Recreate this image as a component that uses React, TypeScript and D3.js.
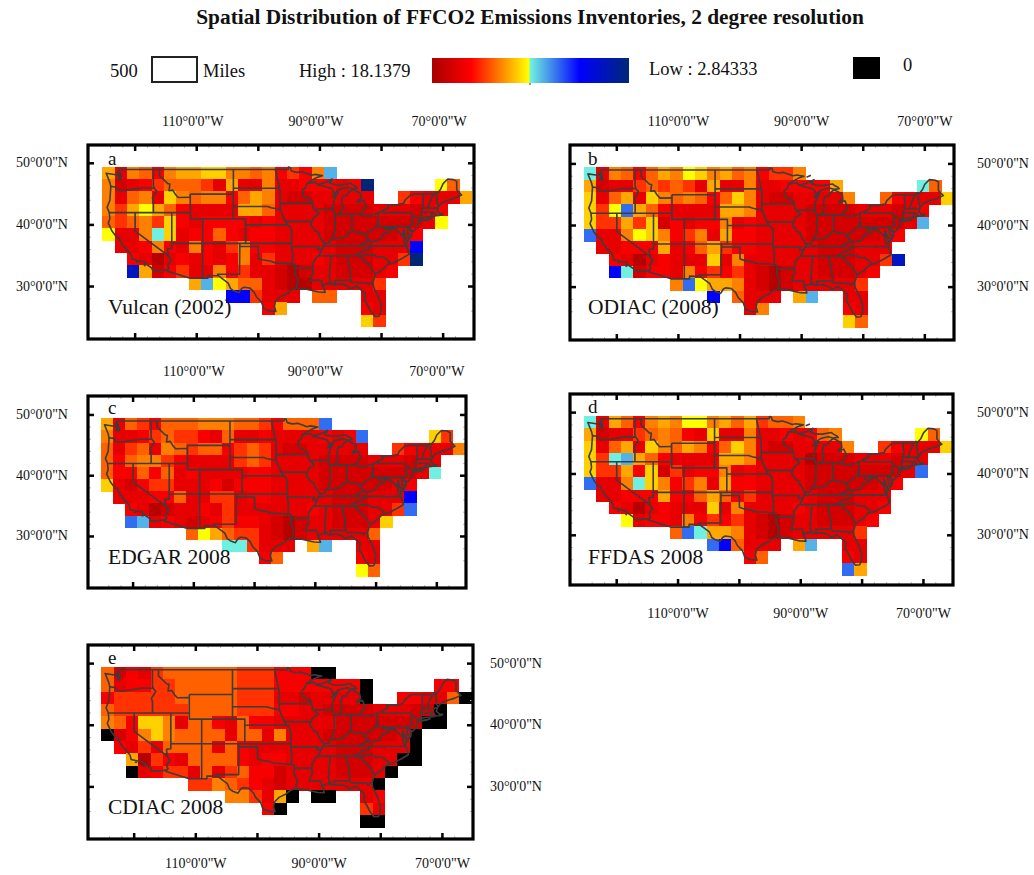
import React, { useEffect, useRef } from "react";
import * as d3 from "d3";

// Cell levels, one character per 2 degree cell ("." = no data)
const vulcanRows = [
  "837647889977674547L",
  "72345666538337334443" + "4N.....Y6",
  "73673976774687322333" + "33..543338",
  "758Y8643333886333322" + "22333234",
  "65675943444434333322" + "2222223Y",
  "Y337T934464344333322" + "222234",
  ".3347437435744333332" + "22333B",
  "..431343434735333432" + "22335N",
  "..D82453374533212332" + "2234",
  ".......8LY8663211333" + "335",
  "..........BB5333.66." + ".33",
  ".............48....." + ".43",
  "...................." + ".95",
];
const odiacRows = [
  "T3764687Y978674557",
  "82335656538337334444" + "8......T6",
  "93683976764697322333" + "37..643339",
  "95YP8643333887333322" + "22333234",
  "95585924344734333322" + "2222223L",
  "P337Y974573844333322" + "222234",
  ".3344483468544333332" + "22333",
  "..431343339373333332" + "22335D",
  "..BT2443745453212332" + "2234",
  ".......7PY8873212333" + "335",
  "..........B.6333.8L." + ".33",
  ".............37....." + ".43",
  "...................." + ".96",
];
const edgarRows = [
  "836546667776654666P",
  "73345655436334333343" + "4P.....95",
  "63563765664565322333" + "33..543337",
  "64677543333565333322" + "22333233",
  "64464634333344333322" + "2222223T",
  "93245533342444333322" + "222234",
  ".3334463355344333332" + "22333B",
  "..431233435333333432" + "22335P",
  "..PL3432345443212332" + "2239",
  ".......6Y86553212333" + "336",
  "..........TT5333.8L." + ".33",
  ".............46....." + ".43",
  "...................." + ".Y6",
];
const ffdasRows = [
  "T3864787YY78685667",
  "82335676439337334346" + "7......Y6",
  "93683976874697322333" + "37..543339",
  "95TL8643333887333312" + "22333233",
  "95584925344734333322" + "2222223P",
  "P337T974573844333322" + "222234",
  ".3344484468645333332" + "22333",
  "..431343339373333432" + "22334",
  "...Y3443745453212332" + "2234",
  ".......6PT8873212333" + "335",
  "..........PB6333.8L." + ".33",
  ".............46....." + ".43",
  "...................." + ".P8",
];
const cdiacRows = [
  "62435666666555444KK",
  "63445566666555444444" + "4K.....44",
  "45555566666555332333" + "3K..44336K",
  "65555556666555443322" + "2233322K",
  "76499736643644333332" + "222222KK",
  "K2479766663663733322" + "22223K",
  ".4353666636433333332" + "22333K",
  "..815436666434433332" + "2233KK",
  "..K34553635644233332" + "223K",
  ".......5576543233333" + "33K",
  "..........77538K.KK." + ".34",
  ".............4K....." + ".53",
  "...................." + ".KK",
];

// value of each level (log emissions), 0 is the black "0" class
const levelValues: Record<string, number> = {
  "1": 17.6, "2": 16.6, "3": 15.95, "4": 15.4, "5": 14.24, "6": 13.41, "7": 12.86,
  "8": 12.17, "9": 11.45, Y: 10.64, T: 10.49, L: 9.5, P: 8.4, B: 6.66, D: 4.87, N: 2.84333, K: 0,
};

const rampValues = [18.1379, 15.08, 10.64, 10.49, 6.66, 2.84333];
const rampColors = ["#a80000", "#ff0000", "#ffff00", "#70f0e0", "#0000ff", "#002878"];

const lonTicks = [-120, -110, -100, -90, -80, -70];
const latTicks = [50, 40, 30];
const lonLabels = [-110, -90, -70];

// lon, lat polylines
const outerBorder = [
  [-122.76, 49], [-95.15, 49], [-95.15, 49.38], [-94.82, 49.32], [-94.64, 48.74], [-93.8, 48.53], [-92.95, 48.62],
  [-92, 48.3], [-91.4, 48.07], [-90.8, 48.2], [-89.6, 48], [-90.5, 47.7], [-91.3, 47.25], [-92.1, 46.75],
  [-91.2, 46.87], [-90.75, 46.95], [-90.4, 46.55], [-89.2, 46.85], [-88.45, 47.2], [-88, 47.45], [-88.45, 46.8],
  [-87.4, 46.5], [-86.5, 46.5], [-85, 46.75], [-84.6, 46.45], [-84.1, 46.2], [-83.9, 45.97], [-84.75, 45.87],
  [-85.5, 46.08], [-86.3, 45.9], [-86.9, 45.7], [-87.6, 45.1], [-88, 44.55], [-87.05, 45.25], [-87.5, 44.5],
  [-87.75, 43.7], [-87.9, 43], [-87.8, 42.3], [-87.55, 41.7], [-87, 41.67], [-86.5, 42.1], [-86.25, 43],
  [-86.5, 43.7], [-86.25, 44.7], [-85.6, 44.8], [-85.4, 45.25], [-84.75, 45.78], [-84.1, 45.5], [-83.4, 45.05],
  [-83.3, 44.3], [-83.9, 43.9], [-83.9, 43.65], [-83, 44.05], [-82.5, 43], [-83.1, 42.25], [-83.4, 41.75],
  [-82.7, 41.5], [-81.7, 41.5], [-80.5, 41.97], [-79, 42.7], [-78.9, 42.9], [-79.05, 43.27], [-77.5, 43.27],
  [-76.4, 43.5], [-76.2, 44], [-75.3, 44.85], [-74.7, 45], [-71.5, 45.01], [-71.3, 45.3], [-70.85, 45.25],
  [-70.4, 45.8], [-70, 46.7], [-69.25, 47.45], [-68.3, 47.35], [-67.8, 47.07], [-67.8, 45.7], [-67.45, 45.3],
  [-67, 44.85], [-68, 44.4], [-69, 44.1], [-70.2, 43.6], [-70.7, 43.05], [-70.8, 42.8], [-71, 42.3],
  [-70.6, 41.95], [-70.5, 41.78], [-70, 41.8], [-70.05, 41.65], [-70.65, 41.55], [-71.2, 41.5], [-71.5, 41.38],
  [-72.9, 41.25], [-73.7, 40.95], [-74, 40.7], [-74, 40.45], [-74.1, 39.75], [-74.9, 38.95], [-75.5, 39.5],
  [-75.1, 38.8], [-75.1, 38.3], [-75.9, 37.15], [-76, 37.9], [-76.4, 39.2], [-76.5, 38.5], [-76.3, 37],
  [-76, 36.9], [-75.5, 35.25], [-76.5, 34.65], [-77.9, 33.9], [-78.9, 33.65], [-79.9, 32.7], [-81, 32],
  [-81.4, 30.7], [-81.3, 29.9], [-80.55, 28.4], [-80.05, 26.9], [-80.15, 25.7], [-80.4, 25.2], [-81.1, 25.15],
  [-81.75, 26], [-82.2, 26.9], [-82.75, 27.8], [-82.65, 28.9], [-83.4, 29.5], [-84, 30.1], [-85, 29.65],
  [-85.7, 30.15], [-86.5, 30.4], [-87.5, 30.3], [-88, 30.3], [-88.1, 30.65], [-88.9, 30.4], [-89.6, 30.2],
  [-89.4, 29.8], [-89.15, 29.05], [-90.2, 29.1], [-91.3, 29.35], [-92.2, 29.55], [-93.85, 29.7], [-94.7, 29.4],
  [-95.3, 28.9], [-96.5, 28.3], [-97.2, 27.6], [-97.4, 26.8], [-97.15, 25.96], [-98.2, 26.05], [-99.1, 26.4],
  [-99.5, 27.5], [-100.3, 28.3], [-100.7, 29.1], [-101.4, 29.77], [-102.3, 29.88], [-102.7, 29.7], [-103.15, 28.98],
  [-104, 29.3], [-104.5, 29.65], [-104.9, 30.55], [-106.5, 31.75], [-108.2, 31.78], [-108.2, 31.33], [-111.07, 31.33],
  [-114.8, 32.5], [-114.72, 32.72], [-117.12, 32.53], [-117.3, 33], [-118.4, 33.75], [-118.5, 34.03], [-119.2, 34.15],
  [-120.5, 34.45], [-120.65, 35.15], [-121.9, 36.6], [-122.5, 37.5], [-122.5, 37.8], [-123, 38], [-123.75, 39],
  [-124.35, 40.3], [-124.1, 41], [-124.2, 42], [-124.55, 42.85], [-124.1, 44], [-123.95, 46.2], [-124.1, 46.9],
  [-124.7, 48.38], [-123.1, 48.15], [-122.75, 48.15], [-122.4, 47.3], [-122.3, 47.6], [-122.4, 48.3], [-122.76, 49],
];
const islands = [
  [[-74, 40.6], [-72, 41.05], [-72.6, 40.8], [-74, 40.6]],
  [[-119.9, 34], [-119.5, 34]],
  [[-118.6, 33.45], [-118.3, 33.35]],
  [[-122.9, 48.6], [-122.7, 48.2], [-122.5, 48], [-122.8, 47.4], [-122.6, 47.9], [-122.9, 48.6]],
];
const isleRoyale = [[-89.2, 47.85], [-88.5, 48.15]];
const stateBorders = [
  [[-124, 46.25], [-123.2, 46.15], [-122.8, 45.65], [-122.3, 45.55], [-121.2, 45.65], [-119.3, 45.93], [-118.98, 46], [-116.92, 46]],
  [[-117.03, 49], [-117.04, 46.42], [-116.92, 46], [-116.5, 45.5], [-116.85, 44.9], [-117.2, 44.4], [-117.03, 43.8], [-117.03, 42]],
  [[-124.2, 42], [-111.05, 42]],
  [[-120, 42], [-120, 39], [-114.63, 35], [-114.15, 34.27], [-114.5, 33.9], [-114.72, 33.4], [-114.5, 33], [-114.72, 32.72]],
  [[-114.05, 42], [-114.05, 36.2], [-114.75, 36.1], [-114.63, 35]],
  [[-114.05, 37], [-94.62, 37]],
  [[-116.05, 49], [-116.05, 48], [-114.7, 46.7], [-114.35, 46.65], [-114.5, 45.55], [-113.9, 45.65], [-113.45, 44.95], [-113, 44.45], [-111.05, 44.48]],
  [[-111.05, 45], [-111.05, 41], [-102.05, 41], [-102.05, 37]],
  [[-111.05, 45], [-104.05, 45]],
  [[-104.05, 49], [-104.05, 41]],
  [[-109.05, 41], [-109.05, 31.33]],
  [[-104.05, 45.94], [-96.56, 45.94]],
  [[-104.05, 43], [-98.5, 43], [-97.9, 42.8], [-96.45, 42.5]],
  [[-102.05, 40], [-95.3, 40]],
  [[-103, 37], [-103.06, 32], [-106.62, 32], [-106.5, 31.75]],
  [[-103, 36.5], [-100, 36.5], [-100, 34.56], [-99.2, 34.3], [-98.1, 34.13], [-97.2, 33.8], [-96, 33.8], [-94.48, 33.64]],
  [[-94.62, 37], [-94.62, 36.5], [-94.43, 35.4], [-94.48, 33.64], [-94.04, 33.55], [-94.04, 31.99], [-93.55, 31.2], [-93.7, 30.1], [-93.85, 29.7]],
  [[-94.04, 33.02], [-91.17, 33]],
  [[-92.1, 46.75], [-92.3, 46.1], [-92.85, 45.6], [-92.75, 44.75], [-91.25, 43.85], [-91.2, 43.5], [-91.1, 42.7], [-90.15, 41.8], [-91.05, 41.2], [-91.4, 40.4], [-91.5, 40], [-90.7, 39], [-90.2, 38.8], [-90.2, 38.4], [-89.5, 37.3], [-89.15, 37], [-89.5, 36.5], [-89.7, 36], [-90.1, 35.1], [-90.6, 34.7], [-91.1, 33.9], [-91.17, 33], [-91.1, 32.3], [-91.6, 31], [-89.75, 31], [-89.6, 30.2]],
  [[-97.23, 49], [-96.8, 47], [-96.56, 45.94], [-96.45, 45.3], [-96.45, 42.5], [-95.9, 41.2], [-95.3, 40], [-94.9, 39.8], [-94.62, 39.1], [-94.62, 37]],
  [[-96.45, 43.5], [-91.2, 43.5]],
  [[-95.77, 40.58], [-91.7, 40.6], [-91.4, 40.4]],
  [[-94.62, 36.5], [-90.15, 36.5], [-90.37, 36], [-89.7, 36]],
  [[-90.65, 42.5], [-87.8, 42.5]],
  [[-90.4, 46.55], [-88.1, 45.9], [-87.6, 45.1]],
  [[-87.53, 41.7], [-87.53, 39.35], [-87.6, 38.7], [-88.05, 37.8]],
  [[-89.15, 37], [-88.5, 37.1], [-88.05, 37.8], [-87.1, 37.8], [-86, 38], [-85.4, 38.7], [-84.8, 39.1], [-84.2, 38.8], [-83, 38.7], [-82.6, 38.4], [-81.8, 39], [-80.85, 39.7], [-80.52, 40.6]],
  [[-84.8, 39.1], [-84.8, 41.7]],
  [[-87, 41.75], [-83.4, 41.72]],
  [[-80.52, 39.72], [-80.52, 41.97]],
  [[-80.52, 39.72], [-75.79, 39.72], [-75.4, 39.8]],
  [[-79.76, 42.25], [-79.76, 42], [-75.35, 42], [-74.7, 41.36], [-75.13, 40.98], [-75.2, 40.65], [-74.75, 40.2], [-75.4, 39.8]],
  [[-74.7, 41.36], [-73.9, 41]],
  [[-75.79, 39.72], [-75.7, 38.46], [-75.05, 38.45]],
  [[-75.9, 37.95], [-75.25, 38.03]],
  [[-76.3, 38], [-77.05, 38.7], [-77.7, 39.3], [-78.35, 39.6], [-79.48, 39.2], [-79.48, 39.72]],
  [[-77.7, 39.3], [-78.35, 39.4], [-78.85, 38.75], [-79.65, 38.6], [-80.3, 37.55], [-81.7, 37.2], [-81.97, 37.54]],
  [[-82.6, 38.4], [-82.6, 38.15], [-81.97, 37.54], [-83.68, 36.6]],
  [[-75.9, 36.55], [-81.68, 36.59], [-83.68, 36.6], [-88.07, 36.65], [-89.4, 36.5]],
  [[-81.68, 36.59], [-82, 36.1], [-83.1, 35.75], [-84.32, 35]],
  [[-90.1, 35], [-83.1, 35], [-82.3, 35.2], [-81.05, 35.1], [-80.8, 34.82], [-79.67, 34.8], [-78.55, 33.86]],
  [[-83.1, 35], [-83.35, 34.7], [-81.9, 33.4], [-81.1, 32.1]],
  [[-88.2, 35], [-88.45, 31.9], [-88.4, 30.3]],
  [[-85.6, 35], [-85.15, 32.85], [-85, 31]],
  [[-87.6, 31], [-85, 31], [-84.86, 30.7], [-82.2, 30.57], [-82.05, 30.35], [-81.45, 30.72]],
  [[-87.6, 31], [-87.45, 30.35]],
  [[-71.5, 45.01], [-72.05, 44.1], [-72.46, 42.73]],
  [[-73.35, 45], [-73.25, 43.6], [-73.27, 42.75], [-73.5, 42.05], [-73.5, 41.3], [-73.65, 41]],
  [[-73.27, 42.75], [-71.3, 42.7], [-70.85, 42.88]],
  [[-73.5, 42.05], [-71.38, 42.02], [-71.13, 41.5]],
  [[-71.8, 42.02], [-71.85, 41.32]],
  [[-71.08, 45.3], [-70.98, 43.4], [-70.7, 43.07]],
];

const panels = [
  { letter: "a", name: "Vulcan (2002)", rows: vulcanRows, frame: [88, 145, 474, 339], grid: [102.3, 166.7], cell: 12.32, lonLabelY: 121, latLabelX: 42, lonDx: -4, letterY: 165, nameY: 314, nameX: 108, letterX: 108 },
  { letter: "b", name: "ODIAC (2008)", rows: odiacRows, frame: [570, 145, 954, 340], grid: [584, 167.3], cell: 12.32, lonLabelY: 121, latLabelX: 1003, lonDx: 0, letterY: 165, nameY: 314, nameX: 588, letterX: 588, isle: true },
  { letter: "c", name: "EDGAR 2008", rows: edgarRows, frame: [88, 396, 466, 588], grid: [100.7, 418.3], cell: 12.15, lonLabelY: 371, latLabelX: 42, lonDx: 0, letterY: 414, nameY: 564, nameX: 108, letterX: 108 },
  { letter: "d", name: "FFDAS 2008", rows: ffdasRows, frame: [570, 394, 953, 585], grid: [584, 416], cell: 12.27, lonLabelY: 613, latLabelX: 1003, lonDx: 0, letterY: 413, nameY: 564, nameX: 588, letterX: 588, isle: true },
  { letter: "e", name: "CDIAC 2008", rows: cdiacRows, frame: [88, 645, 473, 839], grid: [101.3, 667], cell: 12.33, lonLabelY: 863, latLabelX: 516, lonDx: 0, letterY: 664, nameY: 814, nameX: 108, letterX: 108 },
];

const FONT = "'Liberation Serif', serif";

const color = d3.scaleLinear<string>().domain(rampValues).range(rampColors);

const App = () => {
  const svgRef = useRef<SVGSVGElement>(null);

  useEffect(() => {
    const svg = d3.select(svgRef.current);
    svg.selectAll("*").remove();

    const defs = svg.append("defs");
    defs.append("filter").attr("id", "soft").append("feGaussianBlur").attr("stdDeviation", 0.5);
    const grad = defs.append("linearGradient").attr("id", "ramp");
    const rampPos = d3.scaleLinear().domain([18.1379, 2.84333]).range([0, 100]);
    rampValues.forEach((v, i) => {
      grad.append("stop").attr("offset", `${rampPos(v)}%`).attr("stop-color", rampColors[i]);
    });

    const text = (x: number, y: number, s: string, size: number, anchor = "start") =>
      svg.append("text").attr("x", x).attr("y", y).attr("font-family", FONT).attr("font-size", size)
        .attr("text-anchor", anchor).attr("fill", "#111").text(s);

    text(530, 24, "Spatial Distribution of FFCO2 Emissions Inventories, 2 degree resolution", 21.4, "middle")
      .attr("font-weight", "bold");

    // legend
    text(110, 77, "500", 18.5);
    svg.append("rect").attr("x", 152).attr("y", 57).attr("width", 45).attr("height", 25)
      .attr("fill", "#fff").attr("stroke", "#222").attr("stroke-width", 2);
    text(203, 77, "Miles", 18.5);
    text(299, 77, "High : 18.1379", 18.5);
    svg.append("rect").attr("x", 432).attr("y", 58).attr("width", 197).attr("height", 25).attr("fill", "url(#ramp)");
    svg.append("line").attr("x1", 530).attr("x2", 530).attr("y1", 83).attr("y2", 85).attr("stroke", "#333");
    text(649, 75, "Low : 2.84333", 18.5);
    svg.append("rect").attr("x", 853).attr("y", 57).attr("width", 27).attr("height", 22).attr("fill", "#000");
    text(903, 71, "0", 18.5);

    panels.forEach((p) => {
      const [left, top, right, bottom] = p.frame;
      const x = d3.scaleLinear().domain([-125.33, -65.33]).range([p.grid[0], p.grid[0] + 30 * p.cell]);
      const y = d3.scaleLinear().domain([49.45, 23.45]).range([p.grid[1], p.grid[1] + 13 * p.cell]);
      const g = svg.append("g");
      const soft = g.append("g").attr("filter", "url(#soft)");

      const cells = p.rows.flatMap((row, j) =>
        Array.from(row).map((c, i) => ({ c, lon: -125.33 + 2 * i, lat: 49.45 - 2 * j })).filter((d) => d.c !== ".")
      );
      soft.selectAll("rect").data(cells).enter().append("rect")
        .attr("x", (d) => x(d.lon))
        .attr("y", (d) => y(d.lat))
        .attr("width", x(-123.33) - x(-125.33) + 0.3)
        .attr("height", y(47.45) - y(49.45) + 0.3)
        .attr("shape-rendering", "crispEdges")
        .attr("fill", (d) => (d.c === "K" ? "#000" : color(levelValues[d.c])));

      const line = d3.line<number[]>().x((d) => x(d[0])).y((d) => y(d[1]));
      const borders = [outerBorder, ...islands, ...(p.isle ? [isleRoyale] : []), ...stateBorders];
      soft.selectAll("path.border").data(borders).enter().append("path")
        .attr("class", "border")
        .attr("d", (d) => line(d))
        .attr("fill", "none")
        .attr("stroke", "#3c3c3c")
        .attr("stroke-width", 1.6)
        .attr("stroke-linejoin", "round");

      // minor ticks every 2 degrees, major every 10
      const minorLon = d3.range(-124, -66, 2);
      const minorLat = d3.range(50, 24, -2);
      minorLon.forEach((lon) => {
        [[top, top + 3], [bottom, bottom - 3]].forEach(([a, b]) =>
          g.append("line").attr("x1", x(lon)).attr("x2", x(lon)).attr("y1", a).attr("y2", b).attr("stroke", "#bbb")
        );
      });
      minorLat.forEach((lat) => {
        [[left, left + 3], [right, right - 3]].forEach(([a, b]) =>
          g.append("line").attr("y1", y(lat)).attr("y2", y(lat)).attr("x1", a).attr("x2", b).attr("stroke", "#bbb")
        );
      });
      lonTicks.forEach((lon) => {
        [[top, top + 6], [bottom, bottom - 6]].forEach(([a, b]) =>
          g.append("line").attr("x1", x(lon)).attr("x2", x(lon)).attr("y1", a).attr("y2", b).attr("stroke", "#000").attr("stroke-width", 2.5)
        );
      });
      latTicks.forEach((lat) => {
        [[left, left + 6], [right, right - 6]].forEach(([a, b]) =>
          g.append("line").attr("y1", y(lat)).attr("y2", y(lat)).attr("x1", a).attr("x2", b).attr("stroke", "#000").attr("stroke-width", 2.5)
        );
      });

      g.append("rect").attr("x", left).attr("y", top).attr("width", right - left).attr("height", bottom - top)
        .attr("fill", "none").attr("stroke", "#000").attr("stroke-width", 3.2);

      lonLabels.forEach((lon) => {
        text(x(lon) + p.lonDx, p.lonLabelY + 5, `${-lon}°0'0"W`, 14, "middle");
      });
      latTicks.forEach((lat) => {
        text(p.latLabelX, y(lat) + 4, `${lat}°0'0"N`, 14, "middle");
      });

      text(p.letterX, p.letterY, p.letter, 19);
      text(p.nameX, p.nameY, p.name, 21.5);
    });
  }, []);

  return <svg ref={svgRef} width={1034} height={875} style={{ position: "absolute", left: 0, top: 0, background: "#fff" }} />;
};

export default App;
